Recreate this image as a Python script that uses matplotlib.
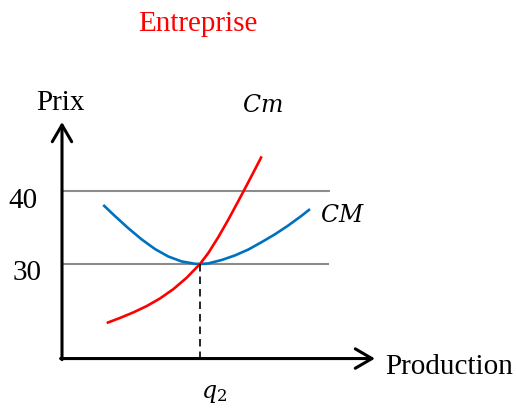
import matplotlib
matplotlib.use('Agg')
import matplotlib.pyplot as plt

plt.rcParams['mathtext.fontset'] = 'dejavuserif'

# 数据 (production q, prix p)
cm_q = [3.24, 4.20, 5.17, 6.14, 7.10, 8.07, 9.04, 10.0, 10.60, 11.33, 12.05, 12.78, 13.14, 13.75, 14.47]
cm_p = [21.92, 22.61, 23.37, 24.24, 25.28, 26.56, 28.13, 30.0, 31.50, 33.69, 36.07, 38.63, 39.91, 42.11, 44.74]

cmoy_q = [2.99, 3.84, 4.80, 5.78, 6.74, 7.70, 8.67, 9.64, 10.0, 10.60, 11.57, 12.54, 13.50, 14.47, 15.43, 16.40, 17.37, 17.97]
cmoy_p = [38.09, 36.56, 34.91, 33.36, 32.05, 31.03, 30.35, 30.03, 30.0, 30.08, 30.55, 31.18, 31.98, 33.00, 34.07, 35.28, 36.62, 37.52]

prix_niveaux = [40, 30]
prix_labels = ['40', '30']
q2 = 10.0

fig = plt.figure(figsize=(5.16, 4.10), dpi=100)
ax = fig.add_axes([0, 0, 1, 1])
ax.set_xlim(-4.493, 32.90)
ax.set_ylim(10.14, 66.30)
ax.axis('off')

y0 = 17.05  # niveau de l'axe horizontal

# lignes horizontales de prix
ax.plot([0.14, 19.35], [prix_niveaux[0]] * 2, color='#8c8c8c', lw=1.5)
ax.plot([0.0, 19.28], [prix_niveaux[1]] * 2, color='#8c8c8c', lw=1.5)

# courbes
ax.plot(cmoy_q, cmoy_p, color='#0070C0', lw=1.9, solid_capstyle='butt', solid_joinstyle='round')
ax.plot(cm_q, cm_p, color='#FF0000', lw=1.9, solid_capstyle='butt', solid_joinstyle='round')

# pointillés vers q2
ax.plot([q2, q2], [30, y0], color='black', lw=1.2, dashes=(4.5, 3))

# axes avec flèches
arrow = dict(arrowstyle='->,head_length=1.2,head_width=0.7', lw=2.2, color='black',
             shrinkA=0, shrinkB=0, mutation_scale=10)
ax.annotate('', xy=(0, 49.45), xytext=(0, y0 - 0.15), arrowprops=arrow)
ax.annotate('', xy=(22.68, y0), xytext=(-0.1, y0), arrowprops=arrow)

# textes
serif = 'Liberation Serif'
ax.text(0.384, 1 - 31 / 410, 'Entreprise', transform=ax.transAxes, ha='center', va='baseline',
        color='red', fontsize=21, family=serif)
ax.text(60 / 516, 1 - 110 / 410, 'Prix', transform=ax.transAxes, ha='center', va='baseline',
        fontsize=21, family=serif)
ax.text(23 / 516, 1 - 208 / 410, prix_labels[0], transform=ax.transAxes, ha='center', va='baseline',
        fontsize=21, family=serif)
ax.text(27 / 516, 1 - 280 / 410, prix_labels[1], transform=ax.transAxes, ha='center', va='baseline',
        fontsize=21, family=serif)
ax.text(385 / 516, 1 - 374 / 410, 'Production', transform=ax.transAxes, ha='left', va='baseline',
        fontsize=21, family=serif)
ax.text(262 / 516, 1 - 112 / 410, '$Cm$', transform=ax.transAxes, ha='center', va='baseline',
        fontsize=17)
ax.text(342 / 516, 1 - 222 / 410, '$CM$', transform=ax.transAxes, ha='center', va='baseline',
        fontsize=17)
ax.text(214 / 516, 1 - 398 / 410, '$q_2$', transform=ax.transAxes, ha='center', va='baseline',
        fontsize=17)

fig.savefig('out.png', dpi=100)
